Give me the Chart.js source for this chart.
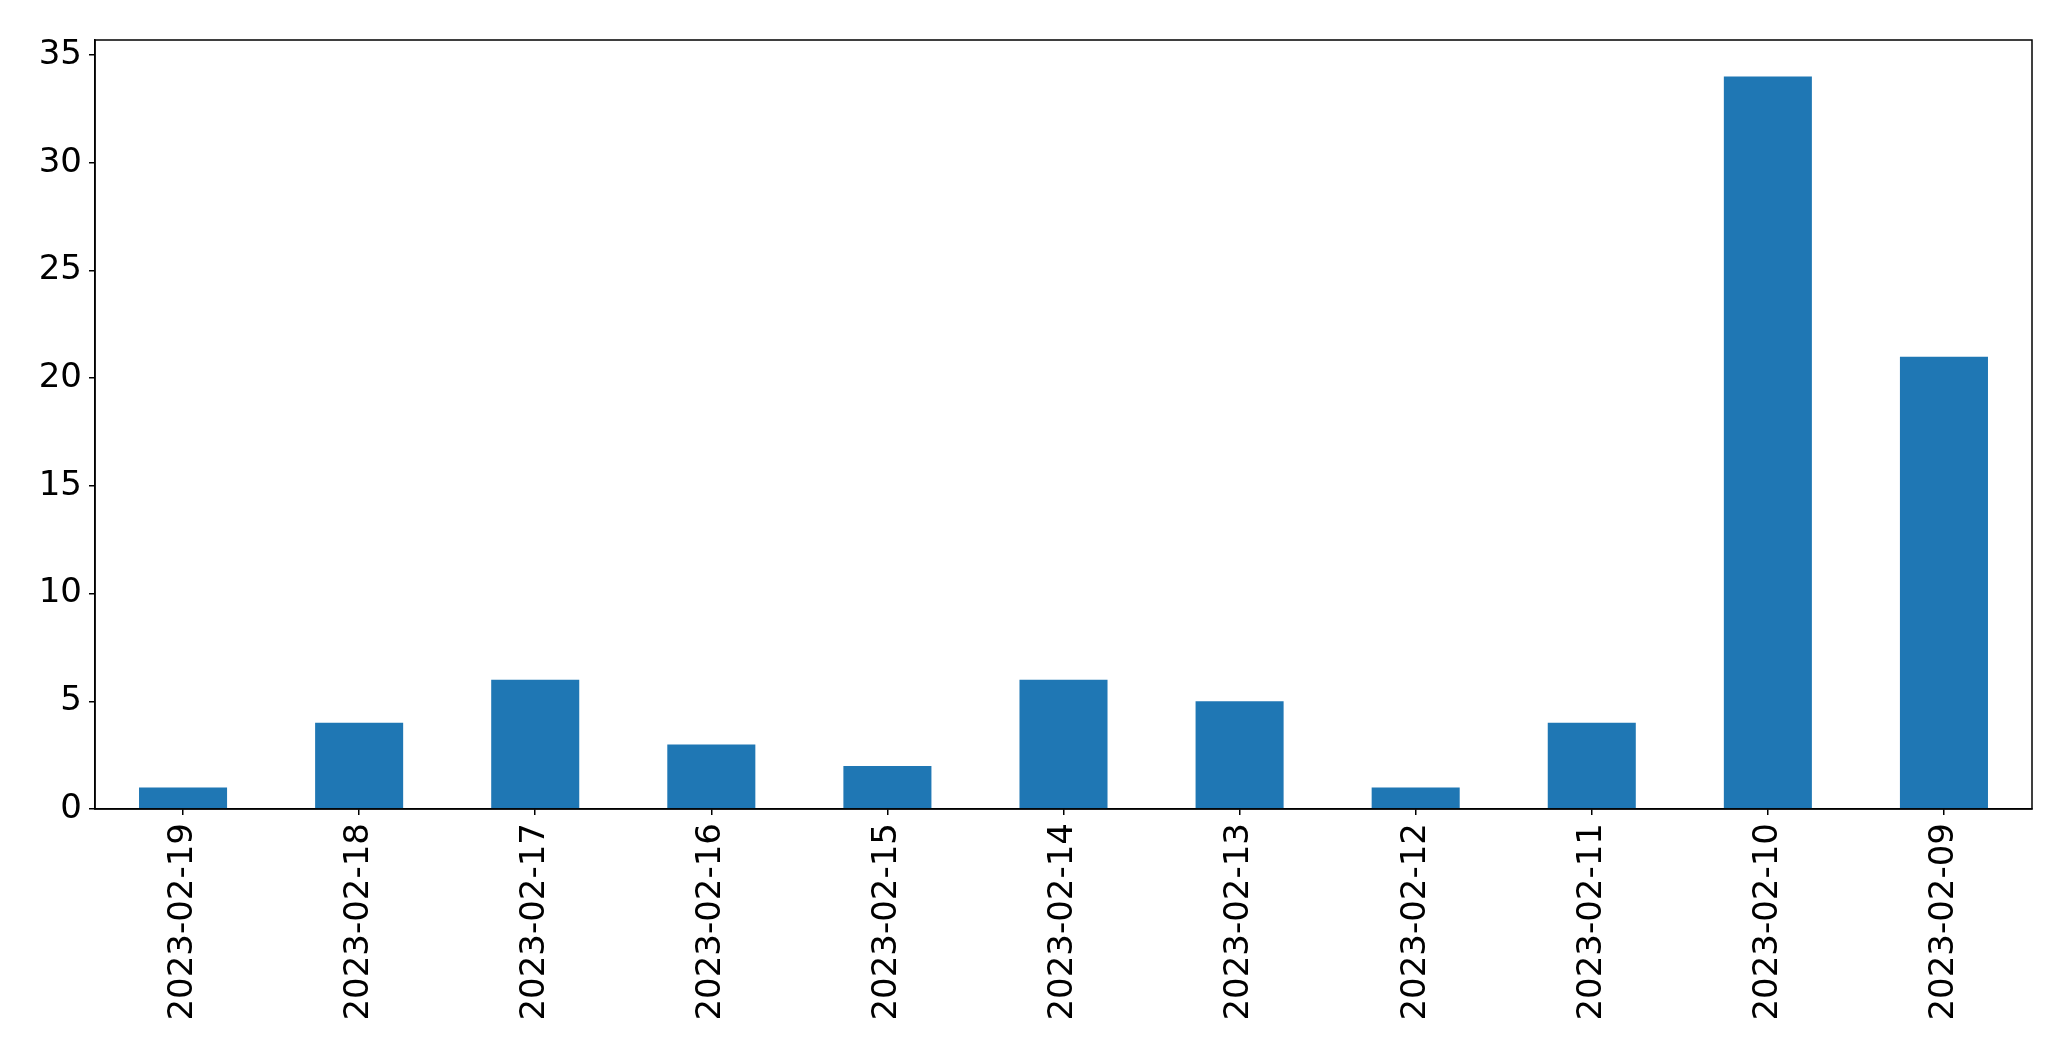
<!DOCTYPE html>
<html>
<head>
<meta charset="utf-8">
<script src="https://cdn.jsdelivr.net/npm/chart.js@4"></script>
<style>
  body { margin: 0; background: #fff; }
</style>
</head>
<body>
<canvas id="chart" width="2071" height="1061"></canvas>
<script>
const labels = ['2023-02-19', '2023-02-18', '2023-02-17', '2023-02-16', '2023-02-15', '2023-02-14',
                '2023-02-13', '2023-02-12', '2023-02-11', '2023-02-10', '2023-02-09'];
const counts = [1, 4, 6, 3, 2, 6, 5, 1, 4, 34, 21];
const yTicks = [0, 5, 10, 15, 20, 25, 30, 35];

const font = { family: 'DejaVu Sans', size: 34 };

// frame around the plot area, like matplotlib's spines
const frame = {
    id: 'frame',
    afterDraw(chart) {
        const { ctx, chartArea: a } = chart;
        ctx.save();
        ctx.strokeStyle = '#000';
        ctx.lineWidth = 1.5;
        ctx.strokeRect(a.left, a.top, a.right - a.left, a.bottom - a.top);
        ctx.restore();
    }
};

new Chart(document.getElementById('chart'), {
    type: 'bar',
    data: {
        labels: labels,
        datasets: [{
            data: counts,
            backgroundColor: '#1f77b4',
            borderWidth: 0,
            categoryPercentage: 1,
            barPercentage: 0.5
        }]
    },
    options: {
        responsive: false,
        animation: false,
        layout: { padding: { top: 40, right: 39, left: 0, bottom: 0 } },
        plugins: { legend: { display: false }, tooltip: { enabled: false } },
        scales: {
            x: {
                grid: { offset: false, drawOnChartArea: false, drawTicks: true, tickLength: 6, color: '#000', lineWidth: 1.5 },
                border: { display: true, color: '#000', width: 1.5 },
                ticks: { color: '#000', font: font, minRotation: 90, maxRotation: 90, padding: 8, autoSkip: false },
                afterFit(scale) { scale.height = 252; }
            },
            y: {
                min: 0,
                max: 35.7,
                grid: { drawOnChartArea: false, drawTicks: true, tickLength: 6, color: '#000', lineWidth: 1.5 },
                border: { display: true, color: '#000', width: 1.5 },
                ticks: { color: '#000', font: font, padding: 7 },
                afterBuildTicks(scale) { scale.ticks = yTicks.map(v => ({ value: v })); },
                afterFit(scale) { scale.width = 95; }
            }
        }
    },
    plugins: [frame]
});
</script>
</body>
</html>
